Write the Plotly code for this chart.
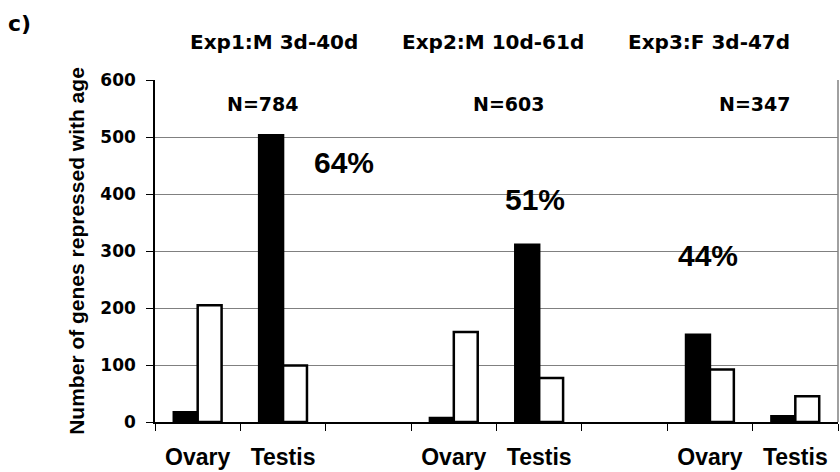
import plotly.graph_objects as go

# ---- data ----
categories = ["Ovary_1", "Testis_1", "gap_1", "Ovary_2", "Testis_2", "gap_2", "Ovary_3", "Testis_3"]
tick_labels = ["Ovary", "Testis", "", "Ovary", "Testis", "", "Ovary", "Testis"]
black_values = [17, 503, None, 7, 311, None, 153, 10]
white_values = [205, 99, None, 158, 77, None, 92, 45]
exp_titles = ["Exp1:M 3d-40d", "Exp2:M 10d-61d", "Exp3:F 3d-47d"]
n_labels = ["N=784", "N=603", "N=347"]
pct_labels = ["64%", "51%", "44%"]
pct_y = [455, 390, 292]

FONT = "Liberation Sans, Arial, sans-serif"
WIDE = "DejaVu Sans, Liberation Sans, sans-serif"

fig = go.Figure()
fig.add_trace(go.Bar(x=categories, y=black_values, marker=dict(color="black", line=dict(color="black", width=2.5)),
                     showlegend=False, hoverinfo="y"))
fig.add_trace(go.Bar(x=categories, y=white_values, marker=dict(color="white", line=dict(color="black", width=2.5)),
                     showlegend=False, hoverinfo="y"))

fig.update_layout(
    width=840, height=472,
    margin=dict(l=155, r=2, t=80, b=50),
    paper_bgcolor="white", plot_bgcolor="white",
    barmode="group", bargap=0.44, bargroupgap=0,
    font=dict(family=FONT, color="black", weight="bold"),
)
fig.update_xaxes(
    type="category", categoryorder="array", categoryarray=categories,
    tickvals=categories, ticktext=tick_labels,
    tickson="boundaries", ticks="outside", ticklen=7, tickcolor="black", tickwidth=1,
    showline=True, linecolor="black", linewidth=1.5,
    showgrid=False, zeroline=False,
    tickfont=dict(family=FONT, size=23, color="black", weight="bold"),
    ticklabelstandoff=14,
)
fig.update_yaxes(
    range=[0, 600], tickvals=[0, 100, 200, 300, 400, 500, 600],
    ticks="outside", ticklen=7, tickcolor="black", tickwidth=1,
    showline=True, linecolor="black", linewidth=1.5,
    showgrid=True, gridcolor="#808080", gridwidth=1, zeroline=False,
    tickfont=dict(family=WIDE, size=17, color="black", weight="bold"),
    ticklabelstandoff=7,
    title=dict(text="Number of genes repressed with age", standoff=10,
               font=dict(family=FONT, size=21, color="black", weight="bold")),
)

# right frame line
fig.add_shape(type="line", xref="paper", yref="paper", x0=1, x1=1, y0=0, y1=1,
              line=dict(color="#808080", width=1.5))

title_x = [0.174, 0.495, 0.811]
n_x = [0.157, 0.518, 0.878]
pct_x = [0.277, 0.556, 0.809]
for i in range(3):
    fig.add_annotation(text=exp_titles[i], xref="paper", yref="paper", x=title_x[i], y=1.111,
                       showarrow=False, xanchor="center", yanchor="middle",
                       font=dict(family=WIDE, size=20, color="black", weight="bold"))
    fig.add_annotation(text=n_labels[i], xref="paper", yref="y", x=n_x[i], y=558,
                       showarrow=False, xanchor="center", yanchor="middle",
                       font=dict(family=WIDE, size=19, color="black", weight="bold"))
    fig.add_annotation(text=pct_labels[i], xref="paper", yref="y", x=pct_x[i], y=pct_y[i],
                       showarrow=False, xanchor="center", yanchor="middle",
                       font=dict(family=FONT, size=30, color="black", weight="bold"))

fig.add_annotation(text="c)", xref="paper", yref="paper", x=-0.198, y=1.164,
                   showarrow=False, xanchor="center", yanchor="middle",
                   font=dict(family=WIDE, size=22, color="black", weight="bold"))

fig.write_html("out.html")
